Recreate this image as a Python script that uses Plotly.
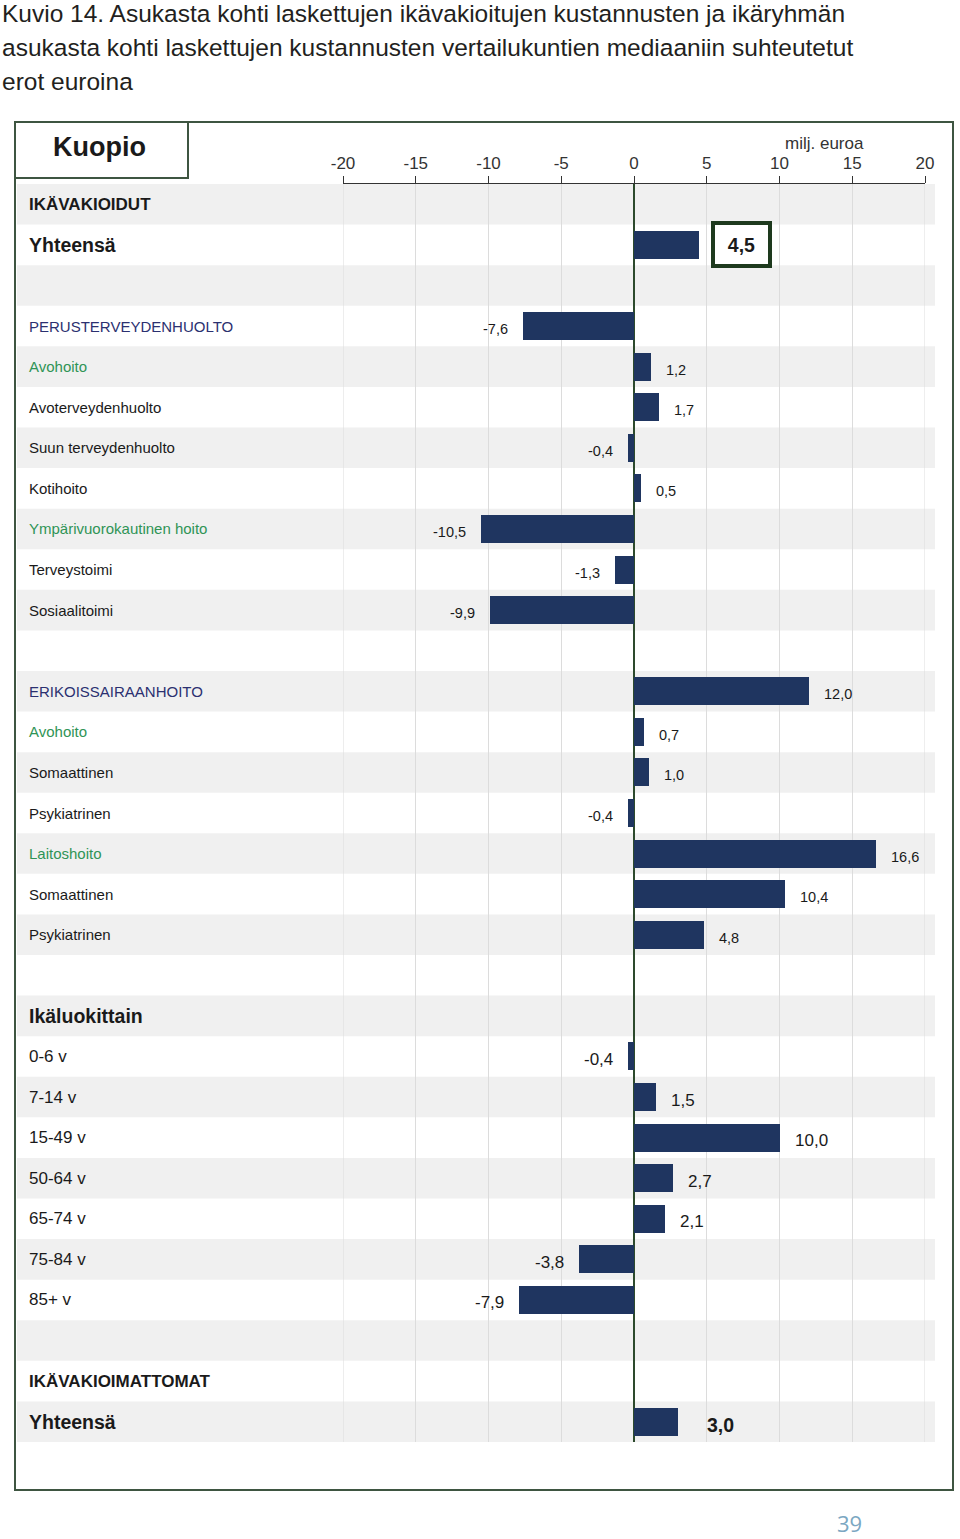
import plotly.graph_objects as go

# ---------------- data ----------------
title_lines = [
    "Kuvio 14. Asukasta kohti laskettujen ikävakioitujen kustannusten ja ikäryhmän",
    "asukasta kohti laskettujen kustannusten vertailukuntien mediaaniin suhteutetut",
    "erot euroina",
]
place_name = "Kuopio"
unit_label = "milj. euroa"
page_number = "39"

row_labels = [
    "IKÄVAKIOIDUT", "Yhteensä", "",
    "PERUSTERVEYDENHUOLTO", "Avohoito", "Avoterveydenhuolto", "Suun terveydenhuolto",
    "Kotihoito", "Ympärivuorokautinen hoito", "Terveystoimi", "Sosiaalitoimi", "",
    "ERIKOISSAIRAANHOITO", "Avohoito", "Somaattinen", "Psykiatrinen",
    "Laitoshoito", "Somaattinen", "Psykiatrinen", "",
    "Ikäluokittain", "0-6 v", "7-14 v", "15-49 v", "50-64 v", "65-74 v", "75-84 v", "85+ v", "",
    "IKÄVAKIOIMATTOMAT", "Yhteensä",
]
row_values = [
    None, 4.5, None,
    -7.6, 1.2, 1.7, -0.4, 0.5, -10.5, -1.3, -9.9, None,
    12.0, 0.7, 1.0, -0.4, 16.6, 10.4, 4.8, None,
    None, -0.4, 1.5, 10.0, 2.7, 2.1, -3.8, -7.9, None,
    None, 3.0,
]
row_kinds = [
    "head", "total", "blank",
    "main", "green", "item", "item", "item", "green", "item", "item", "blank",
    "main", "green", "item", "item", "green", "item", "item", "blank",
    "total", "age", "age", "age", "age", "age", "age", "age", "blank",
    "head", "total",
]
tick_values = [-20, -15, -10, -5, 0, 5, 10, 15, 20]
tick_labels = ["-20", "-15", "-10", "-5", "0", "5", "10", "15", "20"]

# ---------------- styling ----------------
FONT = "Liberation Sans, Arial, Helvetica, sans-serif"
BAR = "#1f3560"
FRAME = "#3e5541"
W_FIG, H_FIG = 960, 1539
L, R, T, B = 343, 35, 184, 97
PW, PH = W_FIG - L - R, H_FIG - T - B
n = len(row_labels)


def pxx(p):
    return (p - L) / PW


def pxy(p):
    return 1 - (p - T) / PH


label_style = {
    "head": dict(size=17, color="#1a1a1a", bold=True),
    "total": dict(size=19.5, color="#1a1a1a", bold=True),
    "main": dict(size=15, color="#2b3070", bold=False),
    "green": dict(size=15, color="#2f9456", bold=False),
    "item": dict(size=15, color="#1a1a1a", bold=False),
    "age": dict(size=17, color="#1a1a1a", bold=False),
    "blank": dict(size=15, color="#1a1a1a", bold=False),
}

bar_y = [i for i, v in enumerate(row_values) if v is not None]
bar_x = [v for v in row_values if v is not None]

fig = go.Figure()
fig.add_trace(go.Bar(
    x=bar_x, y=bar_y, orientation="h", width=0.69,
    marker=dict(color=BAR, line=dict(width=0)),
    hoverinfo="skip", showlegend=False,
))

shapes = []
# alternating bands
for i in range(n):
    if i % 2 == 0:
        shapes.append(dict(type="rect", xref="paper", yref="y",
                           x0=pxx(17), x1=pxx(935), y0=i - 0.5, y1=i + 0.5,
                           fillcolor="#f0f0f0", line=dict(width=0), layer="below"))
# gridlines at the range edges (plotly omits them)
for tv in (tick_values[0], tick_values[-1]):
    shapes.append(dict(type="line", xref="x", yref="paper", x0=tv, x1=tv, y0=0, y1=1,
                       line=dict(color="#dcdcdc", width=1), layer="below"))
# outer frame and name box
shapes.append(dict(type="rect", xref="paper", yref="paper",
                   x0=pxx(15), x1=pxx(953), y0=pxy(1490), y1=pxy(122),
                   line=dict(color=FRAME, width=2), fillcolor="rgba(0,0,0,0)", layer="above"))
shapes.append(dict(type="rect", xref="paper", yref="paper",
                   x0=pxx(15), x1=pxx(188), y0=pxy(178), y1=pxy(122),
                   line=dict(color=FRAME, width=2), fillcolor="rgba(0,0,0,0)", layer="above"))

annotations = []
# title
for k, line in enumerate(title_lines):
    annotations.append(dict(xref="paper", yref="paper", x=pxx(0), y=pxy(13 + 34.5 * k),
                            xanchor="left", yanchor="middle", showarrow=False, text=line,
                            font=dict(family=FONT, size=24.5, color="#231f20")))
annotations.append(dict(xref="paper", yref="paper", x=pxx(99), y=pxy(147),
                        xanchor="center", yanchor="middle", showarrow=False,
                        text="<b>" + place_name + "</b>",
                        font=dict(family=FONT, size=27, color="#1a1a1a")))
annotations.append(dict(xref="paper", yref="paper", x=pxx(824), y=pxy(144),
                        xanchor="center", yanchor="middle", showarrow=False, text=unit_label,
                        font=dict(family=FONT, size=17, color="#333333")))
annotations.append(dict(xref="paper", yref="paper", x=pxx(849), y=pxy(1523),
                        xanchor="center", yanchor="middle", showarrow=False, text=page_number,
                        borderpad=0,
                        font=dict(family="Open Sans, sans-serif", size=22, color="#7ba7c2")))

# row labels
for i, (lab, kind) in enumerate(zip(row_labels, row_kinds)):
    if not lab:
        continue
    st = label_style[kind]
    txt = "<b>" + lab + "</b>" if st["bold"] else lab
    annotations.append(dict(xref="paper", yref="y", x=pxx(27), y=i, xanchor="left",
                            yanchor="middle", showarrow=False, text=txt,
                            font=dict(family=FONT, size=st["size"], color=st["color"])))

# value labels
for i, (v, kind) in enumerate(zip(row_values, row_kinds)):
    if v is None:
        continue
    txt = f"{v:.1f}".replace(".", ",")
    pos = v >= 0
    ann = dict(xref="x", yref="y", x=v, y=i, xanchor="left" if pos else "right",
               yanchor="middle", showarrow=False,
               xshift=13 if pos else -13, yshift=-3)
    if kind == "total":
        ann["text"] = "<b>" + txt + "</b>"
        ann["font"] = dict(family=FONT, size=19.5, color="#1a1a1a")
        if i == 1:
            ann.update(bordercolor="#1e3a1e", borderwidth=4, borderpad=0,
                       width=53, height=39, bgcolor="white", xshift=11.5, yshift=0)
        else:
            ann["xshift"] = 27
    elif kind == "age":
        ann["text"] = txt
        ann["font"] = dict(family=FONT, size=17, color="#1a1a1a")
    else:
        ann["text"] = txt
        ann["font"] = dict(family=FONT, size=14.5, color="#1a1a1a")
    annotations.append(ann)

fig.update_layout(
    width=W_FIG, height=H_FIG,
    margin=dict(l=L, r=R, t=T, b=B, pad=0),
    paper_bgcolor="white", plot_bgcolor="rgba(0,0,0,0)",
    shapes=shapes, annotations=annotations,
    bargap=0, showlegend=False,
    xaxis=dict(range=[-20, 20], side="top", tickmode="array", tickvals=tick_values,
               ticktext=tick_labels, ticks="outside", ticklen=7, tickwidth=1,
               tickcolor="#333333", showline=True, linecolor="#333333", linewidth=1,
               showgrid=True, gridcolor="#dcdcdc", gridwidth=1,
               zeroline=True, zerolinecolor="#2d4a2d", zerolinewidth=1.5,
               tickfont=dict(family=FONT, size=17, color="#333333"), fixedrange=True),
    yaxis=dict(range=[n - 0.5, -0.5], showticklabels=False, showgrid=False,
               zeroline=False, ticks="", showline=False, fixedrange=True),
)

fig.write_html("out.html")
